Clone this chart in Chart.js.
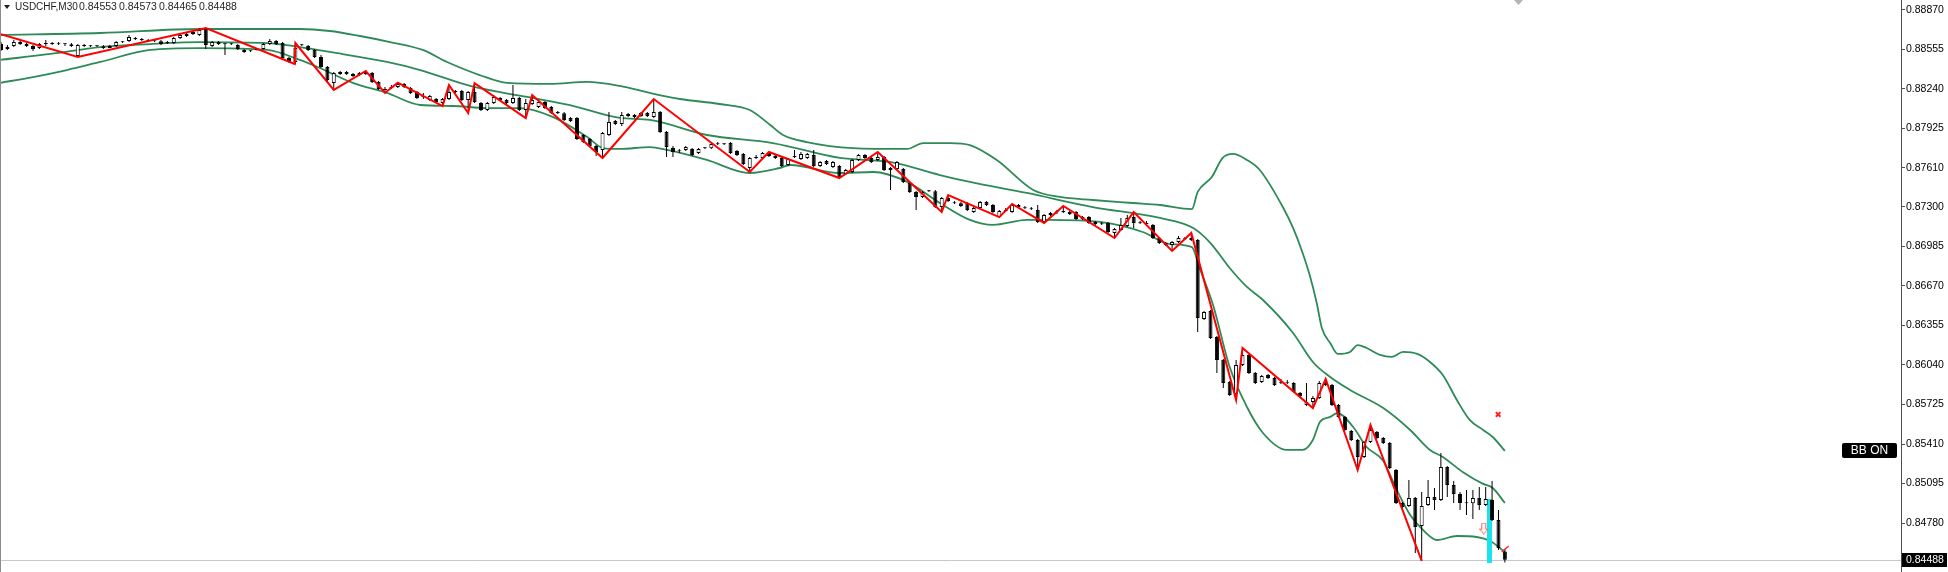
<!DOCTYPE html>
<html>
<head>
<meta charset="utf-8">
<title>USDCHF,M30</title>
<script src="https://cdn.jsdelivr.net/npm/chart.js@4.4.1/dist/chart.umd.min.js"></script>
<style>
  html, body { margin: 0; padding: 0; background: #ffffff; }
  #wrap { width: 1948px; height: 572px; }
</style>
</head>
<body>
<div id="wrap"><canvas id="chart" width="1948" height="572"></canvas></div>
<script>
// USDCHF M30 candles, oldest first
const open = [
  .88598,.88558,.88582,.88614,.88598,.88582,.88566,.88598,.88606,.88598,
  .88598,.88597,.88503,.88590,.88582,.88580,.88581,.88566,.88582,.88614,
  .88622,.88646,.88638,.88630,.88622,.88620,.88606,.88606,.88646,.88662,
  .88678,.88670,.88718,.88582,.88614,.88598,.88596,.88590,.88550,.88542,
  .88550,.88558,.88598,.88622,.88606,.88487,.88455,.88590,.88582,.88550,
  .88495,.88415,.88287,.88359,.88375,.88359,.88351,.88375,.88367,.88295,
  .88240,.88248,.88256,.88280,.88248,.88216,.88184,.88152,.88160,.88128,
  .88160,.88224,.88224,.88152,.88216,.88128,.88072,.88128,.88168,.88152,
  .88128,.88168,.88072,.88120,.88096,.88136,.88096,.88056,.88046,.88008,
  .88008,.87873,.87841,.87785,.87754,.87873,.87985,.87961,.88040,.88032,
  .88024,.88048,.88016,.88056,.87897,.87769,.87746,.87754,.87761,.87730,
  .87769,.87767,.87801,.87799,.87809,.87746,.87722,.87610,.87690,.87690,
  .87730,.87706,.87690,.87634,.87698,.87682,.87690,.87714,.87626,.87666,
  .87618,.87626,.87562,.87578,.87674,.87714,.87690,.87674,.87698,.87610,
  .87602,.87602,.87490,.87419,.87379,.87427,.87425,.87299,.87371,.87331,
  .87329,.87331,.87259,.87291,.87339,.87315,.87220,.87267,.87259,.87315,
  .87291,.87283,.87275,.87180,.87235,.87259,.87257,.87243,.87259,.87204,
  .87220,.87180,.87164,.87172,.87092,.87116,.87148,.87220,.87172,.87170,
  .87156,.87052,.87012,.86996,.87020,.87044,.87052,.87036,.86407,.86470,
  .86263,.86080,.85904,.85809,.86040,.86120,.85977,.85904,.85961,.85937,
  .85896,.85894,.85896,.85817,.85721,.85745,.85777,.85896,.85880,.85721,
  .85626,.85514,.85442,.85307,.85427,.85506,.85458,.85419,.85203,.84940,
  .84916,.84980,.84757,.84924,.84988,.84964,.85227,.85084,.85012,.84940,
  .84938,.84980,.84924,.84964,.84805,.84553
];
const high = [
  .88614,.88590,.88630,.88622,.88606,.88590,.88606,.88630,.88614,.88614,
  .88606,.88606,.88598,.88598,.88590,.88590,.88590,.88590,.88622,.88622,
  .88670,.88654,.88646,.88638,.88630,.88630,.88622,.88654,.88678,.88686,
  .88702,.88726,.88726,.88622,.88622,.88606,.88606,.88598,.88558,.88550,
  .88566,.88606,.88638,.88630,.88614,.88495,.88606,.88598,.88590,.88558,
  .88511,.88423,.88375,.88383,.88383,.88367,.88375,.88383,.88375,.88303,
  .88256,.88272,.88295,.88287,.88256,.88224,.88208,.88192,.88168,.88168,
  .88272,.88232,.88232,.88224,.88287,.88136,.88136,.88192,.88176,.88160,
  .88272,.88176,.88160,.88192,.88144,.88144,.88104,.88064,.88056,.88016,
  .88016,.87881,.87849,.87793,.87897,.88056,.87993,.88056,.88048,.88040,
  .88056,.88056,.88160,.88064,.87905,.87785,.87761,.87785,.87769,.87769,
  .87777,.87809,.87817,.87809,.87817,.87754,.87730,.87698,.87714,.87738,
  .87738,.87714,.87698,.87690,.87754,.87738,.87730,.87754,.87666,.87674,
  .87666,.87634,.87602,.87682,.87722,.87722,.87698,.87738,.87706,.87618,
  .87666,.87610,.87498,.87427,.87427,.87435,.87435,.87379,.87395,.87347,
  .87339,.87339,.87299,.87347,.87347,.87323,.87275,.87291,.87323,.87323,
  .87307,.87299,.87315,.87243,.87259,.87275,.87307,.87267,.87267,.87227,
  .87227,.87188,.87180,.87180,.87132,.87212,.87235,.87259,.87188,.87188,
  .87164,.87060,.87020,.87028,.87068,.87060,.87092,.87044,.86470,.86478,
  .86271,.86088,.85912,.86080,.86175,.86128,.85985,.85961,.85969,.85945,
  .85928,.85920,.85904,.85825,.85896,.85793,.85912,.85928,.85888,.85729,
  .85634,.85522,.85450,.85434,.85562,.85514,.85466,.85427,.85211,.84948,
  .85123,.84988,.85028,.85123,.85060,.85339,.85235,.85115,.85028,.85044,
  .85044,.85068,.85068,.85115,.84884,.84573
];
const low = [
  .88542,.88550,.88574,.88590,.88574,.88542,.88558,.88582,.88590,.88590,
  .88582,.88574,.88495,.88574,.88574,.88574,.88558,.88566,.88574,.88606,
  .88614,.88630,.88622,.88614,.88614,.88590,.88598,.88598,.88638,.88654,
  .88670,.88662,.88558,.88574,.88590,.88511,.88590,.88550,.88527,.88535,
  .88547,.88555,.88590,.88590,.88479,.88447,.88439,.88582,.88542,.88487,
  .88407,.88295,.88232,.88351,.88351,.88335,.88343,.88351,.88287,.88232,
  .88208,.88240,.88248,.88248,.88200,.88160,.88160,.88144,.88128,.88104,
  .88152,.88208,.88144,.88048,.88128,.88064,.88064,.88120,.88144,.88120,
  .88120,.88064,.88008,.88112,.88088,.88080,.88040,.88040,.87985,.87977,
  .87833,.87809,.87777,.87706,.87690,.87865,.87953,.87945,.88016,.88008,
  .88016,.88016,.88008,.87889,.87698,.87698,.87730,.87746,.87706,.87722,
  .87761,.87761,.87793,.87793,.87722,.87706,.87634,.87578,.87682,.87682,
  .87698,.87682,.87618,.87626,.87690,.87674,.87682,.87618,.87618,.87634,
  .87610,.87530,.87554,.87570,.87666,.87682,.87650,.87666,.87586,.87435,
  .87594,.87490,.87411,.87275,.87371,.87419,.87291,.87259,.87339,.87323,
  .87299,.87267,.87251,.87283,.87307,.87251,.87218,.87259,.87251,.87291,
  .87283,.87275,.87172,.87172,.87227,.87243,.87251,.87235,.87196,.87196,
  .87164,.87156,.87156,.87092,.87052,.87108,.87140,.87132,.87164,.87156,
  .87044,.87004,.86988,.86949,.87012,.87036,.87028,.86303,.86399,.86247,
  .85977,.85857,.85793,.85761,.86032,.85969,.85888,.85896,.85928,.85872,
  .85888,.85888,.85817,.85777,.85713,.85697,.85769,.85872,.85713,.85618,
  .85514,.85434,.85203,.85299,.85419,.85450,.85411,.85211,.84932,.84900,
  .84908,.84542,.84478,.84916,.84884,.84956,.84988,.84940,.84884,.84845,
  .84813,.84884,.84916,.84797,.84566,.84465
];
const close = [
  .88550,.88574,.88614,.88598,.88582,.88558,.88598,.88606,.88598,.88596,
  .88597,.88582,.88590,.88582,.88580,.88581,.88566,.88582,.88614,.88612,
  .88654,.88638,.88630,.88622,.88620,.88598,.88614,.88646,.88670,.88678,
  .88694,.88710,.88590,.88614,.88598,.88596,.88598,.88558,.88535,.88540,
  .88558,.88598,.88622,.88598,.88487,.88455,.88566,.88588,.88550,.88495,
  .88415,.88311,.88367,.88375,.88359,.88343,.88367,.88359,.88295,.88240,
  .88232,.88256,.88280,.88256,.88208,.88168,.88176,.88184,.88136,.88160,
  .88216,.88214,.88152,.88216,.88136,.88072,.88128,.88176,.88152,.88128,
  .88168,.88072,.88128,.88152,.88136,.88088,.88048,.88046,.87993,.87985,
  .87841,.87817,.87785,.87738,.87889,.87977,.87961,.88032,.88024,.88016,
  .88048,.88024,.88056,.87897,.87777,.87738,.87744,.87777,.87714,.87761,
  .87767,.87801,.87799,.87801,.87730,.87714,.87642,.87690,.87698,.87730,
  .87706,.87690,.87626,.87682,.87700,.87722,.87722,.87626,.87658,.87642,
  .87658,.87538,.87594,.87674,.87714,.87690,.87658,.87698,.87594,.87594,
  .87658,.87498,.87419,.87379,.87419,.87425,.87299,.87371,.87347,.87329,
  .87307,.87275,.87291,.87339,.87315,.87259,.87267,.87273,.87315,.87299,
  .87289,.87281,.87180,.87235,.87251,.87257,.87267,.87259,.87204,.87220,
  .87172,.87164,.87162,.87100,.87124,.87156,.87212,.87172,.87170,.87164,
  .87052,.87012,.86996,.87020,.87052,.87042,.87036,.86415,.86462,.86255,
  .86080,.85896,.85801,.86040,.86120,.85977,.85896,.85953,.85937,.85880,
  .85894,.85896,.85825,.85793,.85745,.85777,.85896,.85880,.85721,.85626,
  .85522,.85442,.85307,.85427,.85522,.85458,.85419,.85219,.84940,.84908,
  .84980,.84749,.84916,.84988,.84964,.85227,.85084,.85012,.84940,.84938,
  .84980,.84924,.84972,.84805,.84581,.84488
];

// Bollinger bands, sampled along the bar index
const upperX = [-0.2,15.5,31.1,46.7,51.4,56.1,60.8,65.9,69.7,74.8,79.1,85.8,91.6,96.7,101.4,106.1,112.3,117.0,120.2,122.2,125.9,133.1,141.6,144.1,148.3,151.4,155.6,161.3,165.5,170.6,176.9,181.1,186.1,187.0,189.2,190.9,192.5,194.7,196.7,200.3,201.9,203.4,204.5,205.6,206.4,207.7,208.9,210.8,212.0,213.4,215.5,217.3,219.1,221.3,223.3,225.3,227.5,229.5,231.6,233.1,235.0];
const upperY = [.88670,.88686,.88718,.88718,.88702,.88662,.88614,.88551,.88455,.88351,.88288,.88280,.88296,.88264,.88208,.88160,.88120,.88072,.87953,.87873,.87817,.87769,.87762,.87809,.87809,.87793,.87674,.87435,.87379,.87355,.87331,.87315,.87283,.87419,.87538,.87690,.87722,.87674,.87594,.87299,.87132,.86933,.86757,.86534,.86335,.86215,.86128,.86144,.86199,.86175,.86120,.86104,.86144,.86128,.86064,.85960,.85761,.85602,.85522,.85466,.85355];
const midX = [-0.2,7.7,15.5,23.3,31.1,41.6,46.7,51.4,60.3,65.5,73.3,82.2,88.9,96.7,101.4,110.3,120.6,131.1,138.9,146.7,151.4,160.3,170.6,181.1,186.3,189.0,192.0,194.7,197.2,201.9,205.0,207.7,210.8,216.0,220.2,223.3,225.3,228.4,231.6,233.1,235.0];
const midY = [.88471,.88519,.88574,.88598,.88614,.88606,.88574,.88535,.88455,.88391,.88264,.88176,.88112,.88009,.87993,.87873,.87809,.87690,.87658,.87554,.87499,.87411,.87299,.87212,.87132,.87012,.86813,.86662,.86558,.86295,.86064,.85944,.85841,.85697,.85522,.85363,.85307,.85187,.85092,.85060,.84940];
const lowX = [-0.2,5.0,10.3,15.5,23.3,31.1,41.6,46.7,49.8,55.0,60.3,65.5,70.6,75.9,81.1,86.3,91.6,94.1,96.7,101.4,104.1,110.3,117.0,121.7,123.3,131.1,136.3,141.6,146.7,151.4,155.0,160.3,163.4,171.7,178.4,182.7,186.1,187.3,189.4,192.0,194.7,197.2,200.9,203.4,205.0,206.1,207.7,208.8,211.3,213.4,216.0,218.1,220.2,222.2,224.4,227.5,230.6,232.7,235.0];
const lowY = [.88288,.88335,.88391,.88455,.88551,.88566,.88551,.88471,.88407,.88288,.88208,.88112,.88104,.88088,.88088,.88016,.87857,.87769,.87762,.87777,.87754,.87674,.87570,.87610,.87634,.87570,.87578,.87499,.87331,.87196,.87156,.87196,.87196,.87180,.87100,.87004,.86980,.86813,.86518,.86024,.85705,.85498,.85363,.85363,.85442,.85586,.85626,.85657,.85546,.85386,.85275,.85044,.84845,.84725,.84645,.84677,.84669,.84637,.84549];

// ZigZag swing points
const zzX = [-0.16,12,32,45.9,46,52,57,60,62,69,70,73,74,82,83,94,102,117,120,131,137,147,148,156,158,163,166,174,177,183,186,193,194,205,207,212,214,222];
const zzY = [.88678,.88495,.88726,.88439,.88606,.88232,.88383,.88208,.88290,.88104,.88272,.88048,.88287,.88008,.88192,.87690,.88160,.87578,.87738,.87530,.87738,.87259,.87395,.87218,.87323,.87172,.87307,.87052,.87259,.86949,.87092,.85761,.86175,.85697,.85928,.85203,.85562,.84478];
const zzTailX = [234.5, 235.6];
const zzTailY = [.84551, .84597];

// signal marks near the last bars
const cyanX = 232.6;
const cyanRange = [.84462, .84972];
const arrowPoint = {x: 231.7, y: .84736};
const crossPoint = {x: 233.95, y: .85646};

// price axis
const yTicks = [.88870,.88555,.88240,.87925,.87610,.87300,.86985,.86670,.86355,.86040,.85725,.85410,.85095,.84780];
const bidPrice = close[close.length - 1];
const symbolText = 'USDCHF,M30';

const axisFont = '"Liberation Sans", Arial, sans-serif';

function zip(xs, ys) {
    const n = Math.min(xs.length, ys.length);
    const out = [];
    for (let i = 0; i < n; i++) out.push({x: xs[i], y: ys[i]});
    return out;
}

// hollow down arrow used as a point style
function makeArrow() {
    const c = document.createElement('canvas');
    c.width = 9;
    c.height = 12;
    const a = c.getContext('2d');
    a.strokeStyle = '#ff5a5a';
    a.fillStyle = '#ffffff';
    a.lineWidth = 1;
    a.beginPath();
    a.moveTo(2.5, 0.5);
    a.lineTo(6.5, 0.5);
    a.lineTo(6.5, 6.5);
    a.lineTo(8.5, 6.5);
    a.lineTo(4.5, 11.5);
    a.lineTo(0.5, 6.5);
    a.lineTo(2.5, 6.5);
    a.closePath();
    a.fill();
    a.stroke();
    return c;
}

// MT4 style extras: bid line, frame, header, labels
const mtDecor = {
    id: 'mtDecor',
    beforeDatasetsDraw(chart) {
        const {ctx, chartArea, scales} = chart;
        const yb = Math.round(scales.y.getPixelForValue(bidPrice)) + 0.5;
        ctx.save();
        ctx.strokeStyle = '#c8c8c8';
        ctx.lineWidth = 1;
        ctx.beginPath();
        ctx.moveTo(chartArea.left, yb);
        ctx.lineTo(chartArea.right, yb);
        ctx.stroke();
        ctx.restore();
    },
    afterDraw(chart) {
        const {ctx, chartArea, scales} = chart;
        ctx.save();

        // left frame
        ctx.strokeStyle = '#8c8c8c';
        ctx.lineWidth = 1;
        ctx.beginPath();
        ctx.moveTo(0.5, 0);
        ctx.lineTo(0.5, chartArea.bottom);
        ctx.stroke();

        // chart shift marker
        ctx.fillStyle = '#b4b4b4';
        ctx.beginPath();
        ctx.moveTo(1514, 0);
        ctx.lineTo(1523, 0);
        ctx.lineTo(1518.5, 5);
        ctx.closePath();
        ctx.fill();

        // header
        const last = close.length - 1;
        ctx.fillStyle = '#1e1e1e';
        ctx.beginPath();
        ctx.moveTo(4, 5);
        ctx.lineTo(10, 5);
        ctx.lineTo(7, 9);
        ctx.closePath();
        ctx.fill();
        ctx.font = '10px ' + axisFont;
        ctx.textBaseline = 'middle';
        ctx.textAlign = 'left';
        ctx.fillText(symbolText, 15, 7.5);
        ctx.font = '10.5px ' + axisFont;
        [open[last], high[last], low[last], close[last]].forEach((v, k) => {
            ctx.fillText(v.toFixed(5), 79 + k * 40, 7.5);
        });

        // BB ON label
        ctx.fillStyle = '#000000';
        ctx.beginPath();
        ctx.roundRect(1842, 443, 55, 15, 2);
        ctx.fill();
        ctx.fillStyle = '#ffffff';
        ctx.font = '12px ' + axisFont;
        ctx.textAlign = 'center';
        ctx.fillText('BB ON', 1869.5, 451);

        // bid price label on the axis
        const yb = scales.y.getPixelForValue(bidPrice);
        ctx.fillStyle = '#000000';
        ctx.fillRect(chartArea.right + 1, Math.round(yb) - 7, 45, 14);
        ctx.fillStyle = '#ffffff';
        ctx.font = '10.5px ' + axisFont;
        ctx.textAlign = 'left';
        ctx.fillText(bidPrice.toFixed(5), chartArea.right + 5, yb + 0.5);

        ctx.restore();
    }
};

function renderChart() {
    const idx = open.map((_, i) => i);
    const wickData = idx.map(i => ({x: i, y: [low[i], high[i]]}));
    const bodyData = idx.map(i => ({x: i, y: [open[i], close[i]]}));
    const bodyFill = idx.map(i => close[i] >= open[i] ? '#ffffff' : '#000000');

    const bandStyle = {
        type: 'line',
        borderColor: '#2e8b57',
        borderWidth: 1.8,
        pointRadius: 0,
        cubicInterpolationMode: 'monotone',
        order: 6
    };

    const ctx = document.getElementById('chart').getContext('2d');
    new Chart(ctx, {
        type: 'bar',
        data: {
            datasets: [
                Object.assign({label: 'BB upper', data: zip(upperX, upperY)}, bandStyle),
                Object.assign({label: 'BB middle', data: zip(midX, midY)}, bandStyle),
                Object.assign({label: 'BB lower', data: zip(lowX, lowY)}, bandStyle),
                {
                    label: 'signal',
                    data: [{x: cyanX, y: cyanRange}],
                    backgroundColor: '#18e4ee',
                    barThickness: 5,
                    grouped: false,
                    inflateAmount: 0,
                    order: 5
                },
                {
                    label: 'wicks',
                    data: wickData,
                    backgroundColor: '#000000',
                    barThickness: 1,
                    grouped: false,
                    inflateAmount: 0,
                    order: 4
                },
                {
                    label: 'bodies',
                    data: bodyData,
                    backgroundColor: bodyFill,
                    borderColor: '#000000',
                    borderWidth: 1,
                    borderSkipped: false,
                    barThickness: 4,
                    minBarLength: 1,
                    grouped: false,
                    inflateAmount: 0,
                    order: 3
                },
                {
                    type: 'line',
                    label: 'ZigZag',
                    data: zip(zzX, zzY),
                    borderColor: '#ff0000',
                    borderWidth: 2,
                    pointRadius: 0,
                    tension: 0,
                    order: 2
                },
                {
                    type: 'line',
                    label: 'ZigZag tail',
                    data: zip(zzTailX, zzTailY),
                    borderColor: '#ff2a2a',
                    borderWidth: 1.5,
                    pointRadius: 0,
                    order: 1
                },
                {
                    type: 'line',
                    label: 'marks',
                    data: [arrowPoint, crossPoint],
                    showLine: false,
                    pointStyle: [makeArrow(), 'crossRot'],
                    pointRadius: [5, 3.2],
                    pointHoverRadius: 0,
                    borderColor: ['#ff5a5a', '#ff2020'],
                    borderWidth: [1, 2],
                    order: 0
                }
            ]
        },
        options: {
            responsive: false,
            devicePixelRatio: 1,
            animation: false,
            events: [],
            layout: { padding: 0, autoPadding: false },
            scales: {
                x: {
                    type: 'linear',
                    display: false,
                    offset: false,
                    min: -0.156,
                    max: 296.9
                },
                y: {
                    position: 'right',
                    min: 0.84390,
                    max: 0.88949,
                    afterBuildTicks: function(scale) {
                        scale.ticks = yTicks.map(v => ({value: v}));
                    },
                    afterFit: function(scale) {
                        scale.width = 47;
                        scale.paddingTop = 0;
                        scale.paddingBottom = 0;
                    },
                    grid: {
                        drawOnChartArea: false,
                        drawTicks: true,
                        tickLength: 4,
                        color: '#505050'
                    },
                    border: {
                        display: true,
                        color: '#505050',
                        width: 1
                    },
                    ticks: {
                        autoSkip: false,
                        padding: 1,
                        color: '#000000',
                        font: { family: axisFont, size: 10.5 },
                        callback: function(value) {
                            return Number(value).toFixed(5);
                        }
                    }
                }
            },
            plugins: {
                legend: { display: false },
                tooltip: { enabled: false }
            }
        },
        plugins: [mtDecor]
    });
}

document.addEventListener('DOMContentLoaded', renderChart);
</script>
</body>
</html>
